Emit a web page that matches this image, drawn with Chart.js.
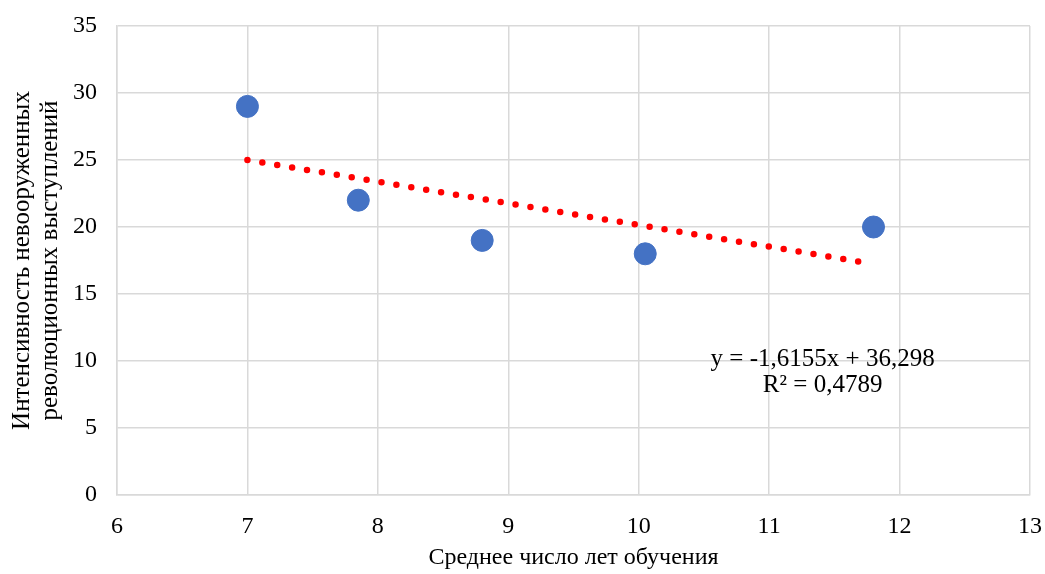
<!DOCTYPE html>
<html>
<head>
<meta charset="utf-8">
<script src="https://cdn.jsdelivr.net/npm/chart.js@4/dist/chart.umd.min.js"></script>
<style>
    html, body { margin: 0; padding: 0; background: #fff; }
    #wrap { width: 1045px; height: 574px; }
</style>
</head>
<body>
<div id="wrap"><canvas id="chart" width="1045" height="574"></canvas></div>
<script>
// years of schooling vs. intensity of unarmed revolutionary protests
const xValues = [7, 7.85, 8.8, 10.05, 11.8];
const yValues = [29, 22, 19, 18, 20];

// trend line ends
const trendX = [7, 11.7];
const trendY = [25.0, 17.4];

const equationLines = ['y = -1,6155x + 36,298', 'R² = 0,4789'];
const xTitle = 'Среднее число лет обучения';
const yTitle = ['Интенсивность невооруженных', 'революционных выступлений'];

const fontFamily = '"Liberation Serif", "Times New Roman", serif';
const gridColor = '#d9d9d9';

const points = xValues.map((x, i) => ({ x: x, y: yValues[i] }));
const trend = trendX.map((x, i) => ({ x: x, y: trendY[i] }));

var equationLabel = {
    id: 'equationLabel',
    afterDatasetsDraw(chart) {
        const { ctx, scales: { x, y } } = chart;
        ctx.save();
        ctx.font = '25px ' + fontFamily;
        ctx.fillStyle = '#000';
        ctx.textAlign = 'center';
        ctx.textBaseline = 'middle';
        const cx = x.getPixelForValue(11.41);
        ctx.fillText(equationLines[0], cx, y.getPixelForValue(10.1));
        ctx.fillText(equationLines[1], cx, y.getPixelForValue(8.2));
        ctx.restore();
    }
};

var config = {
    type: 'scatter',
    data: {
        datasets: [{
            data: trend,
            showLine: true,
            borderColor: '#ff0000',
            borderWidth: 6.5,
            borderDash: [0, 15.1],
            borderCapStyle: 'round',
            pointRadius: 0,
            order: 1
        }, {
            data: points,
            backgroundColor: '#4472c4',
            borderColor: '#4472c4',
            pointRadius: 11,
            order: 2
        }]
    },
    options: {
        responsive: false,
        animation: false,
        layout: {
            padding: { top: 26, right: 15, bottom: 2, left: 9 }
        },
        plugins: {
            legend: { display: false },
            tooltip: { enabled: false }
        },
        scales: {
            x: {
                type: 'linear',
                min: 6,
                max: 13,
                ticks: {
                    stepSize: 1,
                    color: '#000',
                    padding: 17,
                    font: { family: fontFamily, size: 24 }
                },
                grid: { color: gridColor, lineWidth: 1.5, drawTicks: false },
                border: { color: gridColor, width: 1.5 },
                title: {
                    display: true,
                    text: xTitle,
                    color: '#000',
                    padding: { top: 3, bottom: 0 },
                    font: { family: fontFamily, size: 24 }
                },
                afterFit(scale) {
                    scale.height = 77;
                    scale.paddingLeft = 0;
                    scale.paddingRight = 0;
                }
            },
            y: {
                min: 0,
                max: 35,
                ticks: {
                    stepSize: 5,
                    color: '#000',
                    padding: 20,
                    font: { family: fontFamily, size: 24 }
                },
                grid: { color: gridColor, lineWidth: 1.5, drawTicks: false },
                border: { color: gridColor, width: 1.5 },
                title: {
                    display: true,
                    text: yTitle,
                    color: '#000',
                    padding: { top: 0, bottom: 6 },
                    font: { family: fontFamily, size: 25, lineHeight: 1.1 }
                },
                afterFit(scale) {
                    scale.width = 108;
                    scale.paddingTop = 0;
                    scale.paddingBottom = 0;
                }
            }
        }
    },
    plugins: [equationLabel]
};

new Chart(document.getElementById('chart'), config);
</script>
</body>
</html>
